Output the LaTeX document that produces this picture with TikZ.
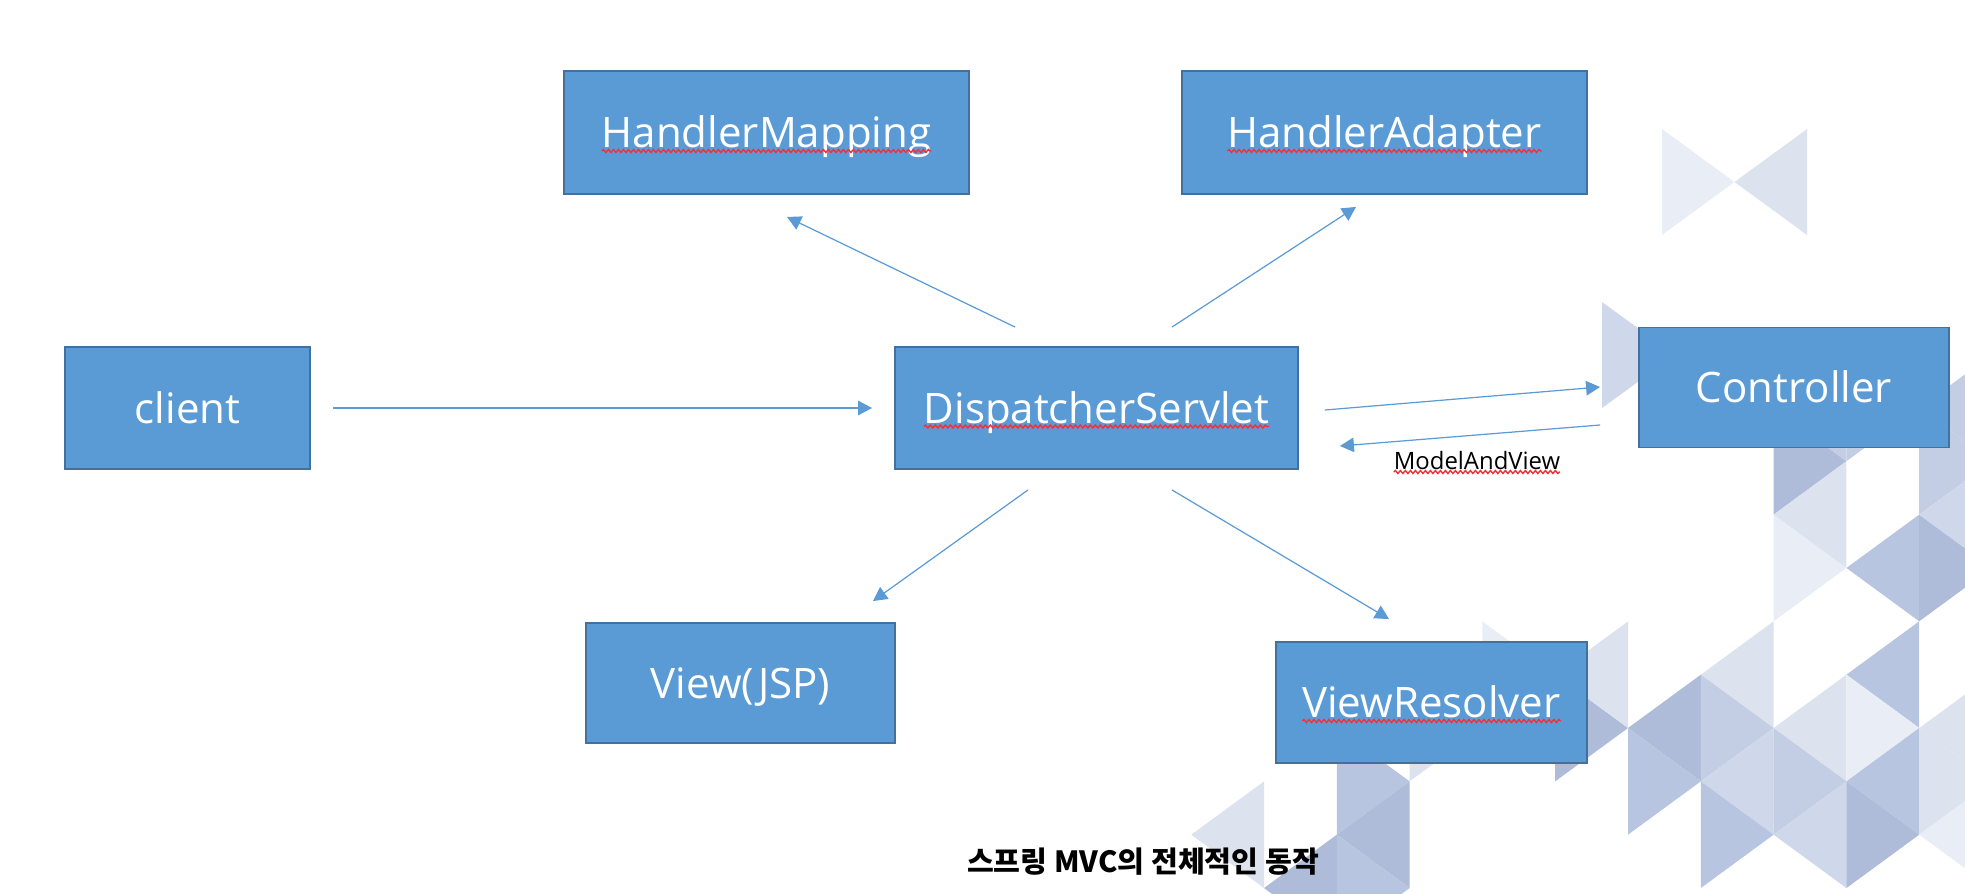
\documentclass[tikz,border=0pt]{standalone}
\usepackage{fontspec}
\setmainfont{Open Sans}
\newfontfamily\krfont{Noto Sans CJK KR}
\usetikzlibrary{arrows.meta, calc, decorations.pathmorphing}

\definecolor{BoxBlue}{HTML}{5B9BD5}
\definecolor{BoxEdge}{HTML}{41719C}
\definecolor{TriVLight}{HTML}{E9EEF6}
\definecolor{TriLight}{HTML}{DCE3EF}
\definecolor{TriLMed}{HTML}{CFD8EA}
\definecolor{TriMidL}{HTML}{C3CEE4}
\definecolor{TriMed}{HTML}{B8C5E0}
\definecolor{TriDark}{HTML}{AEBCDA}
\definecolor{SpellRed}{HTML}{F0323A}

\newcommand{\boxfont}{\fontsize{23.9}{28}\selectfont}
\newcommand{\labelfont}{\fontsize{13.6}{16}\selectfont}
\newcommand{\captionfont}{\krfont\bfseries\fontsize{16.6}{20}\selectfont}
% word widths for the red wavy marks
\newlength{\hmwidth}
\newlength{\hawidth}
\newlength{\dswidth}
\newlength{\vrwidth}
\newlength{\mavwidth}
\AtBeginDocument{%
  \settowidth{\hmwidth}{\boxfont HandlerMapping}%
  \settowidth{\hawidth}{\boxfont HandlerAdapter}%
  \settowidth{\dswidth}{\boxfont DispatcherServlet}%
  \settowidth{\vrwidth}{\boxfont ViewResolver}%
  \settowidth{\mavwidth}{\labelfont ModelAndView}}
% red wavy line under a word: node, width, drop below centre
\newcommand{\spellmark}[3]{%
  \draw[spell] ([xshift=-0.5#2, yshift=-#3]#1.center) -- ++(#2,0);}

\begin{document}
\begin{tikzpicture}[x=0.02cm, y=-0.02cm,
  >={Triangle[length=0.28cm, width=0.29cm]},
  box/.style={draw=BoxEdge, line width=1.1pt, fill=BoxBlue, text=white,
    font=\boxfont, text height=17.1pt, text depth=0pt, inner sep=0pt},
  flow/.style={->, BoxBlue, line width=0.7pt},
  spell/.style={SpellRed, line width=0.8pt, decorate,
    decoration={snake, segment length=0.1cm, amplitude=0.03cm}}]
  \useasboundingbox (0,0) rectangle (1965,893);

  % Background triangles (base on grid line i, rows n..n+2, pointing d)
  \begin{scope}
    \clip (0,0) rectangle (1965,893);
    \foreach \i/\n/\d/\c in {1/1/-1/TriLight, 2/2/-1/TriDark, 2/0/1/TriMed,
        3/1/-1/TriDark, 2/2/1/TriMed, 3/-1/1/TriLight, 4/-2/1/TriVLight,
        5/-1/1/TriDark, 6/-2/-1/TriLight, 7/-1/-1/TriDark, 6/0/1/TriMed,
        8/-2/-1/TriLight, 7/-1/1/TriMidL, 8/0/-1/TriLMed, 7/1/1/TriMed,
        8/-4/1/TriVLight, 9/-1/-1/TriLight, 8/0/1/TriMidL, 9/1/-1/TriLMed,
        10/-2/-1/TriMed, 9/-1/1/TriVLight, 10/0/-1/TriMed, 9/1/1/TriDark,
        10/-4/-1/TriMed, 10/-4/1/TriDark, 11/-1/-1/TriLight, 10/0/1/TriLight,
        11/1/-1/TriVLight, 8/-6/1/TriDark, 9/-7/-1/TriMidL, 9/-5/-1/TriLight,
        9/-7/1/TriMidL, 10/-6/1/TriMidL, 11/-7/-1/TriMidL, 11/-5/-1/TriLMed}
      \fill[\c] ({1191.2+72.8*\i},{728+53.35*\n}) -- ++(0,106.7)
        -- ({1191.2+72.8*(\i+\d)},{728+53.35*(\n+1)}) -- cycle;
    % loose pieces
    \fill[TriVLight] (1662,129) -- (1662,235) -- (1734.5,182) -- cycle;
    \fill[TriLight] (1807,129) -- (1807,235) -- (1734.5,182) -- cycle;
    \fill[TriLMed] (1602,302) -- (1602,408) -- (1675,355) -- cycle;
  \end{scope}

  % Boxes
  \node[box, minimum width=8.1cm, minimum height=2.46cm] (hm) at (766.5,132.5) {HandlerMapping};
  \node[box, minimum width=8.1cm, minimum height=2.46cm] (ha) at (1384.5,132.5) {HandlerAdapter};
  \node[box, minimum width=4.9cm, minimum height=2.44cm] (client) at (187.5,408) {client};
  \node[box, minimum width=8.06cm, minimum height=2.44cm] (ds) at (1096.5,408) {DispatcherServlet};
  \node[box, minimum width=6.2cm, minimum height=2.4cm] (ctrl) at (1794,387.5) {Controller};
  \node[box, minimum width=6.18cm, minimum height=2.4cm] (view) at (740.5,683) {View(JSP)};
  \node[box, minimum width=6.22cm, minimum height=2.42cm] (vr) at (1431.5,702.5) {ViewResolver};

  % Arrows
  \draw[flow, shorten <=0.44cm, shorten >=0.44cm] (client) -- (ds);
  \draw[flow] ([shift={(-81.5,-19)}]ds.north) -- ([shift={(20.5,22)}]hm.south);
  \draw[flow] ([shift={(75.5,-19)}]ds.north) -- ([shift={(-28.5,12)}]ha.south);
  \draw[flow] ([shift={(26,2)}]ds.east) -- ([shift={(-38,-0.5)}]ctrl.west);
  \draw[flow] ([shift={(-38,37.5)}]ctrl.west) -- ([shift={(41,38)}]ds.east);
  \draw[flow] ([shift={(-68.5,20)}]ds.south) -- ([shift={(132.5,-21)}]view.north);
  \draw[flow] ([shift={(75.5,20)}]ds.south) -- ([shift={(-42.5,-22)}]vr.north);
  \node[font=\labelfont, text height=9.7pt, text depth=0pt, inner sep=0pt] (mav) at (1477,460.5) {ModelAndView};

  % Caption
  \node[font=\captionfont, inner sep=0pt] (title) at (1143,862) {스프링 MVC의 전체적인 동작};

  % Spell-check marks
  \spellmark{hm}{\hmwidth}{0.37cm}
  \spellmark{ha}{\hawidth}{0.37cm}
  \spellmark{ds}{\dswidth}{0.37cm}
  \spellmark{vr}{\vrwidth}{0.37cm}
  \spellmark{mav}{\mavwidth}{0.23cm}
\end{tikzpicture}
\end{document}
